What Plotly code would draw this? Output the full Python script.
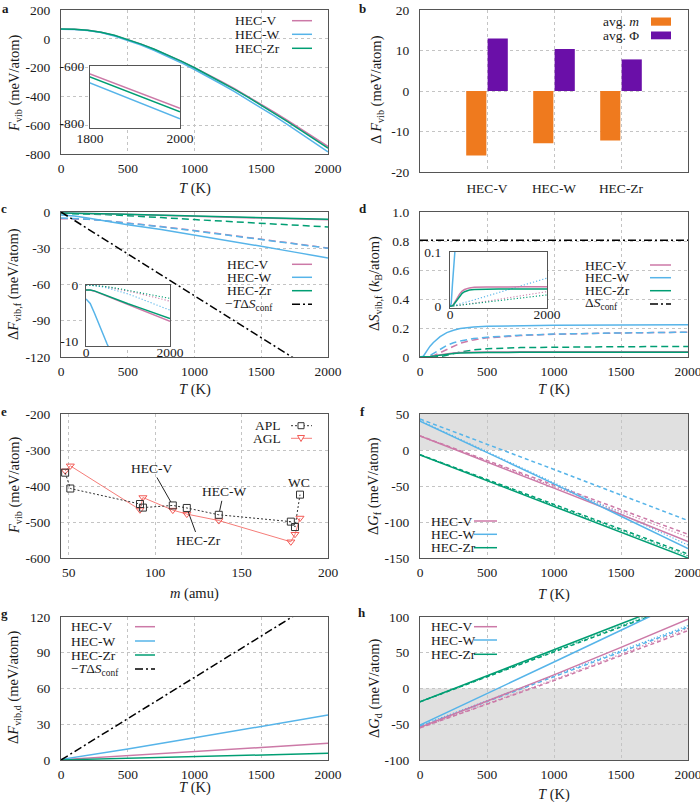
import plotly.graph_objects as go

# ---------------- data ----------------
# a: F_vib(T)
T_a = [0, 100, 200, 300, 400, 500, 600, 700, 800, 900, 1000, 1100, 1200, 1300, 1400,
       1500, 1600, 1700, 1800, 1900, 2000]
Fvib_V = [67, 66, 59, 45, 23, -5, -38, -74, -113, -155, -200, -247, -296, -347, -400,
          -455, -511, -569, -628, -688, -748]
Fvib_W = [66, 65, 58, 43, 20, -9, -43, -81, -122, -166, -213, -262, -314, -367, -422,
          -479, -537, -597, -659, -721, -785]
Fvib_Zr = [68, 67, 60, 46, 24, -4, -37, -73, -112, -155, -201, -249, -299, -351, -405,
           -461, -518, -577, -638, -699, -760]

# b: decomposition of Delta F_vib
b_labels = ["HEC-V", "HEC-W", "HEC-Zr"]
b_pos = [1, 2, 3]
dF_avg_m = [-15.9, -12.9, -12.2]
dF_avg_phi = [12.95, 10.4, 7.8]

# c: Delta F_vib,f
T_c = [0, 100, 200, 300, 400, 500, 750, 1000, 1250, 1500, 1750, 2000]
dFf_V = [-0.9, -0.9, -1.1, -1.4, -1.7, -2.0, -2.8, -3.5, -4.3, -5.0, -5.8, -6.5]
dFf_W = [-2.5, -3.3, -5.0, -6.9, -8.7, -10.5, -14.5, -19.0, -23.6, -28.4, -33.2, -38.0]
dFf_Zr = [-0.9, -0.9, -1.05, -1.35, -1.65, -1.95, -2.7, -3.35, -4.0, -4.7, -5.35, -6.0]
dFf_V_dash = [-5.5, -5.6, -6.1, -6.9, -7.9, -9.0, -12.0, -15.3, -18.9, -22.5, -26.1, -29.8]
dFf_W_dash = [-5.0, -5.2, -5.9, -6.9, -8.0, -9.2, -12.3, -15.6, -19.1, -22.7, -26.3, -30.0]
dFf_Zr_dash = [-1.2, -1.3, -1.6, -2.0, -2.5, -3.0, -4.6, -6.3, -7.8, -9.3, -10.9, -12.4]
T_conf = [0, 2000]
mTdS_conf = [0, -138.7]
pTdS_conf = [0, 138.7]
T_ci = [0, 250, 500, 750, 1000, 1250, 1500, 1750, 2000]
dFf_V_dot = [0, -0.1, -0.35, -0.7, -1.1, -1.5, -1.95, -2.4, -2.9]
dFf_W_dot = [0, -0.15, -0.5, -1.0, -1.6, -2.3, -3.0, -3.75, -4.5]
dFf_Zr_dot = [0, -0.1, -0.3, -0.6, -0.95, -1.3, -1.65, -2.0, -2.4]

# d: Delta S_vib,f
T_d = [0, 25, 50, 75, 100, 150, 200, 250, 300, 400, 500, 750, 1000, 1500, 2000]
dSf_V = [0, 0, 0.001, 0.004, 0.008, 0.016, 0.023, 0.028, 0.031, 0.034, 0.035, 0.0355, 0.036, 0.036, 0.036]
dSf_W = [0, 0.005, 0.04, 0.075, 0.1, 0.14, 0.168, 0.185, 0.196, 0.207, 0.212, 0.217, 0.219, 0.221, 0.222]
dSf_Zr = [0, 0, 0.001, 0.003, 0.006, 0.013, 0.019, 0.024, 0.027, 0.030, 0.031, 0.032, 0.032, 0.032, 0.032]
dSf_V_dash = [0, 0, 0, 0.002, 0.008, 0.03, 0.055, 0.078, 0.095, 0.118, 0.132, 0.148, 0.157, 0.166, 0.171]
dSf_W_dash = [0, 0, 0, 0.01, 0.025, 0.055, 0.08, 0.098, 0.11, 0.127, 0.137, 0.15, 0.158, 0.166, 0.171]
dSf_Zr_dash = [0, 0, 0, 0, 0, 0.003, 0.012, 0.024, 0.035, 0.049, 0.057, 0.065, 0.068, 0.071, 0.073]
dS_conf = [0.805, 0.805]
T_di = [0, 100, 500, 1000, 1500, 2000]
dSf_V_dot = [0, 0.001, 0.006, 0.013, 0.020, 0.027]
dSf_W_dot = [0, 0.002, 0.012, 0.025, 0.038, 0.052]
dSf_Zr_dot = [0, 0.001, 0.005, 0.011, 0.016, 0.021]

# e: F_vib vs mass
e_m = [47.9, 50.9, 91.2, 92.9, 110.2, 118.3, 136.8, 178.5, 180.9, 183.8]
e_F_APL = [-363, -407, -450, -460, -454, -461, -480, -499, -514, -424]
e_F_AGL = [-358, -344, -466, -432, -467, -478, -496, -555, -534, -489]
e_point_labels = ["HEC-V", "HEC-W", "HEC-Zr", "WC"]
e_point_index = [4, 6, 5, 9]

# f, h: Delta G_f and Delta G_d
T_fh = [0, 500, 1000, 1500, 2000]
dGf_V = [19.4, -16.5, -53, -89.5, -127]
dGf_V_dash = [19.6, -14.5, -48.5, -83, -117]
dGf_V_dot = [19.5, -15.5, -50.5, -86, -121]
dGf_W = [40, -3, -47, -92, -137]
dGf_W_dash = [43, 8.5, -27, -62.5, -98]
dGf_W_dot = [41, -2, -45, -88, -132]
dGf_Zr = [-6.9, -42.5, -78.5, -114.5, -150]
dGf_Zr_dash = [-6.5, -41, -75.5, -110, -144.5]
dGf_Zr_dot = [-6.7, -41.8, -77, -112, -147]
f_shade = [0, 50]

dGd_V = [-54.4, -18, 19, 57.5, 97]
dGd_V_dash = [-55, -22, 11, 46, 81]
dGd_V_dot = [-55, -21.5, 12.5, 48, 84]
dGd_W = [-51, -7.5, 37, 81.5, 126]
dGd_W_dash = [-53, -18, 17, 51.5, 86]
dGd_W_dot = [-52, -17, 18.5, 53, 88]
dGd_Zr = [-18.6, 17.5, 54, 90.5, 127]
dGd_Zr_dash = [-18.6, 16.2, 51, 86, 121]
dGd_Zr_dot = [-18.6, 16.8, 52.2, 87.6, 123]
h_shade = [-100, 0]

# g: Delta F_vib,d
T_g = [0, 500, 1000, 1500, 2000]
dFd_V = [0.3, 3.5, 7.0, 10.5, 14.0]
dFd_W = [0.5, 9.2, 18.6, 28.2, 37.7]
dFd_Zr = [0.1, 1.4, 2.8, 4.2, 5.6]

# tick labels
T_ticks = [0, 500, 1000, 1500, 2000]
T_ticktext = ["0", "500", "1000", "1500", "2000"]

# ---------------- style ----------------
W, H = 700, 802
FONT = "Liberation Serif"
PINK, BLUE, GREEN = "#cc79a7", "#56b4e9", "#009e73"
ORANGE, PURPLE, RED = "#ef7a1e", "#6a0fa8", "#f25a55"
FRAME, GRID, TXT = "#555555", "#c4c4c4", "#1a1a1a"
DASH = "7px,4px"
SDASH = "4px,3px"
DOT = "1.2px,2px"
DASHDOT = "8px,3px,2px,3px"
LEGSIZE = 13.5


def fx(p):
    return p / W


def fy(p):
    return 1 - p / H


panels = {
    1: (61, 328, 10, 154),     # a
    2: (420, 688, 10, 172),    # b
    3: (61, 328, 212, 357),    # c
    4: (420, 688, 212, 357),   # d
    5: (61, 328, 414, 558),    # e
    6: (420, 688, 414, 558),   # f
    7: (61, 328, 617, 760),    # g
    8: (420, 688, 617, 760),   # h
    9: (90, 180, 66, 128),     # inset a
    10: (86, 170, 285, 346),   # inset c
    11: (450, 547, 252, 308),  # inset d
}

layout = dict(width=W, height=H, autosize=False,
              margin=dict(l=0, r=0, t=0, b=0, pad=0, autoexpand=False),
              paper_bgcolor="white", plot_bgcolor="white", showlegend=False,
              barmode="group", bargap=0.36, bargroupgap=0.06,
              font=dict(family=FONT, size=14, color=TXT))
annotations = []
shapes = []
traces = []


def sfx(i):
    return "" if i == 1 else str(i)


def make_axes(i, xr, yr, xtv, xtt, ytv, ytt, grid=True, xso=2, yso=7):
    x0, x1, y0, y1 = panels[i]
    s = sfx(i)
    common = dict(showline=True, mirror=True, linecolor=FRAME, linewidth=1.3, ticks="",
                  zeroline=False, showgrid=grid, gridcolor=GRID, griddash="dot", gridwidth=1,
                  tickfont=dict(family=FONT, size=13.5, color=TXT), fixedrange=True,
                  tickmode="array", automargin=False, ticklabeloverflow="allow")
    layout["xaxis" + s] = dict(domain=[fx(x0), fx(x1)], anchor="y" + s, range=xr,
                               tickvals=xtv, ticktext=xtt, ticklabelstandoff=xso, **common)
    layout["yaxis" + s] = dict(domain=[fy(y1), fy(y0)], anchor="x" + s, range=yr,
                               tickvals=ytv, ticktext=ytt, ticklabelstandoff=yso, **common)


def line(i, x, y, color, width=1.5, dash="solid"):
    s = sfx(i)
    traces.append(go.Scatter(x=x, y=y, mode="lines", xaxis="x" + s, yaxis="y" + s,
                             line=dict(color=color, width=width, dash=dash),
                             hoverinfo="skip", showlegend=False))


def text(x, y, t, anchor="left", size=LEGSIZE, angle=0):
    annotations.append(dict(xref="paper", yref="paper", x=fx(x), y=fy(y), text=t,
                            showarrow=False, xanchor=anchor, yanchor="middle",
                            textangle=angle, font=dict(family=FONT, size=size, color=TXT)))


def leg_line(x0, x1, y, color, dash="solid", width=1.5):
    shapes.append(dict(type="line", xref="paper", yref="paper", x0=fx(x0), x1=fx(x1),
                       y0=fy(y), y1=fy(y), layer="above",
                       line=dict(color=color, width=width, dash=dash)))


def ytitle(x, y, t):
    text(x, y, t, anchor="center", size=14.5, angle=-90)


def xtitle(x, y, t):
    annotations.append(dict(xref="paper", yref="paper", x=fx(x), y=fy(y), text=t,
                            showarrow=False, xanchor="center", yanchor="middle",
                            font=dict(family=FONT, size=14.5, color=TXT)))


def tl(vals):
    return [str(v) for v in vals]


# ---------------- a ----------------
make_axes(1, [0, 2000], [-800, 200], T_ticks, T_ticktext,
          [200, 0, -200, -400, -600, -800], tl([200, 0, -200, -400, -600, -800]))
for y, c in [(Fvib_V, PINK), (Fvib_W, BLUE), (Fvib_Zr, GREEN)]:
    line(1, T_a, y, c)

# ---------------- b ----------------
make_axes(2, [0, 4], [-20, 20], b_pos, b_labels,
          [20, 10, 0, -10, -20], tl([20, 10, 0, -10, -20]), xso=4)
traces.append(go.Bar(x=b_pos, y=dF_avg_m, xaxis="x2", yaxis="y2", marker=dict(color=ORANGE, line=dict(width=0)),
                     offsetgroup="m", hoverinfo="skip", showlegend=False))
traces.append(go.Bar(x=b_pos, y=dF_avg_phi, xaxis="x2", yaxis="y2", marker=dict(color=PURPLE, line=dict(width=0)),
                     offsetgroup="p", hoverinfo="skip", showlegend=False))

# ---------------- c ----------------
make_axes(3, [0, 2000], [-120, 0], T_ticks, T_ticktext,
          [0, -30, -60, -90, -120], tl([0, -30, -60, -90, -120]))
for y, c in [(dFf_V_dash, PINK), (dFf_W_dash, BLUE), (dFf_Zr_dash, GREEN)]:
    line(3, T_c, y, c, dash=DASH)
for y, c in [(dFf_V, PINK), (dFf_W, BLUE), (dFf_Zr, GREEN)]:
    line(3, T_c, y, c)
line(3, T_conf, mTdS_conf, "black", dash=DASHDOT)

# ---------------- d ----------------
make_axes(4, [0, 2000], [0, 1.0], T_ticks, T_ticktext,
          [0, 0.2, 0.4, 0.6, 0.8, 1.0], ["0", "0.2", "0.4", "0.6", "0.8", "1.0"])
for y, c in [(dSf_V_dash, PINK), (dSf_W_dash, BLUE), (dSf_Zr_dash, GREEN)]:
    line(4, T_d, y, c, dash=DASH)
for y, c in [(dSf_V, PINK), (dSf_W, BLUE), (dSf_Zr, GREEN)]:
    line(4, T_d, y, c)
line(4, T_conf, dS_conf, "black", dash=DASHDOT)

# ---------------- e ----------------
make_axes(5, [45.5, 200], [-600, -200], [50, 100, 150, 200], ["50", "100", "150", "200"],
          [-200, -300, -400, -500, -600], tl([-200, -300, -400, -500, -600]))
traces.append(go.Scatter(x=e_m, y=e_F_AGL, mode="lines+markers", xaxis="x5", yaxis="y5",
                         line=dict(color=RED, width=0.8),
                         marker=dict(symbol="triangle-down-open", size=7, color=RED, line=dict(width=1)),
                         hoverinfo="skip", showlegend=False))
traces.append(go.Scatter(x=e_m, y=e_F_APL, mode="lines+markers", xaxis="x5", yaxis="y5",
                         line=dict(color="#333333", width=1, dash="2px,2px"),
                         marker=dict(symbol="square-open", size=7, color="#333333", line=dict(width=1)),
                         hoverinfo="skip", showlegend=False))
e_offsets = [(-21, -37), (5, -23), (12, 33)]
for k in range(3):
    idx = e_point_index[k]
    annotations.append(dict(xref="x5", yref="y5", x=e_m[idx], y=e_F_APL[idx], text=e_point_labels[k],
                            showarrow=True, arrowhead=0, arrowwidth=1, arrowcolor="#222",
                            ax=e_offsets[k][0], ay=e_offsets[k][1], standoff=4,
                            font=dict(family=FONT, size=LEGSIZE, color=TXT)))
annotations.append(dict(xref="x5", yref="y5", x=e_m[e_point_index[3]], y=e_F_APL[e_point_index[3]],
                        text=e_point_labels[3], showarrow=False, yshift=12, xshift=-1,
                        font=dict(family=FONT, size=LEGSIZE, color=TXT)))

# ---------------- f ----------------
make_axes(6, [0, 2000], [-150, 50], T_ticks, T_ticktext,
          [50, 0, -50, -100, -150], tl([50, 0, -50, -100, -150]))
shapes.append(dict(type="rect", xref="x6 domain", yref="y6", x0=0, x1=1, y0=f_shade[0], y1=f_shade[1],
                   fillcolor="#e0e0e0", line=dict(width=0), layer="below"))
for y, c in [(dGf_V_dot, PINK), (dGf_W_dot, BLUE), (dGf_Zr_dot, GREEN)]:
    line(6, T_fh, y, c, width=1.2, dash=DOT)
for y, c in [(dGf_V_dash, PINK), (dGf_W_dash, BLUE), (dGf_Zr_dash, GREEN)]:
    line(6, T_fh, y, c, dash=SDASH)
for y, c in [(dGf_V, PINK), (dGf_W, BLUE), (dGf_Zr, GREEN)]:
    line(6, T_fh, y, c)

# ---------------- g ----------------
make_axes(7, [0, 2000], [0, 120], T_ticks, T_ticktext,
          [0, 30, 60, 90, 120], ["0", "30", "60", "90", "120"])
for y, c in [(dFd_V, PINK), (dFd_W, BLUE), (dFd_Zr, GREEN)]:
    line(7, T_g, y, c)
line(7, T_conf, pTdS_conf, "black", dash=DASHDOT)

# ---------------- h ----------------
make_axes(8, [0, 2000], [-100, 100], T_ticks, T_ticktext,
          [100, 50, 0, -50, -100], tl([100, 50, 0, -50, -100]))
shapes.append(dict(type="rect", xref="x8 domain", yref="y8", x0=0, x1=1, y0=h_shade[0], y1=h_shade[1],
                   fillcolor="#e0e0e0", line=dict(width=0), layer="below"))
for y, c in [(dGd_V_dot, PINK), (dGd_W_dot, BLUE), (dGd_Zr_dot, GREEN)]:
    line(8, T_fh, y, c, width=1.2, dash=DOT)
for y, c in [(dGd_V_dash, PINK), (dGd_W_dash, BLUE), (dGd_Zr_dash, GREEN)]:
    line(8, T_fh, y, c, dash=SDASH)
for y, c in [(dGd_V, PINK), (dGd_W, BLUE), (dGd_Zr, GREEN)]:
    line(8, T_fh, y, c)

# ---------------- insets ----------------
make_axes(9, [1800, 2000], [-817, -600], [1800, 2000], ["1800", "2000"],
          [-600, -800], ["-600", "-800"], grid=False, xso=-2, yso=2)
make_axes(10, [0, 2000], [-10.9, 0], [0, 2000], ["0", "2000"],
          [0, -10], ["0", "-10"], grid=False, xso=-6, yso=4)
make_axes(11, [0, 2000], [-0.003, 0.1], [0, 2000], ["0", "2000"],
          [0, 0.1], ["0", "0.1"], grid=False, xso=-6, yso=5)
for i in (9, 10, 11):
    shapes.append(dict(type="rect", xref="x%d domain" % i, yref="y%d domain" % i, x0=0, x1=1, y0=0, y1=1,
                       fillcolor="white", line=dict(width=0), layer="below"))
for y, c in [(Fvib_V, PINK), (Fvib_W, BLUE), (Fvib_Zr, GREEN)]:
    line(9, T_a, y, c)
for y, c in [(dFf_V_dot, PINK), (dFf_W_dot, BLUE), (dFf_Zr_dot, GREEN)]:
    line(10, T_ci, y, c, width=1.1, dash=DOT)
for y, c in [(dFf_V, PINK), (dFf_W, BLUE), (dFf_Zr, GREEN)]:
    line(10, T_c, y, c)
for y, c in [(dSf_V_dot, PINK), (dSf_W_dot, BLUE), (dSf_Zr_dot, GREEN)]:
    line(11, T_di, y, c, width=1.1, dash=DOT)
for y, c in [(dSf_V, PINK), (dSf_W, BLUE), (dSf_Zr, GREEN)]:
    line(11, T_d, y, c)

# ---------------- legends (text first, sample after) ----------------
hec = [("HEC-V", PINK), ("HEC-W", BLUE), ("HEC-Zr", GREEN)]
for (t, c), y in zip(hec, [20.7, 34.3, 48.3]):          # a
    text(233, y, t); leg_line(292, 312, y, c)
text(641, 21.7, "avg. <i>m</i>", anchor="right")       # b
text(641, 35, "avg. Φ", anchor="right")
shapes.append(dict(type="rect", xref="paper", yref="paper", x0=fx(651), x1=fx(671), y0=fy(25.7), y1=fy(17.5),
                   fillcolor=ORANGE, line=dict(width=0), layer="above"))
shapes.append(dict(type="rect", xref="paper", yref="paper", x0=fx(651), x1=fx(671), y0=fy(39.3), y1=fy(31.5),
                   fillcolor=PURPLE, line=dict(width=0), layer="above"))
for (t, c), y in zip(hec, [264.3, 277.3, 290.7]):      # c
    text(225, y, t); leg_line(292, 312, y, c)
text(223, 304.3, "−<i>T</i>Δ<i>S</i><sub>conf</sub>"); leg_line(292, 312, 304.3, "black", DASHDOT)
for (t, c), y in zip(hec, [265, 277.7, 290.7]):        # d
    text(583, y, t); leg_line(650, 671, y, c)
text(583, 304, "Δ<i>S</i><sub>conf</sub>"); leg_line(650, 671, 304, "black", DASHDOT)
text(283, 425.7, "APL", anchor="right")                # e
leg_line(291, 312, 425.7, "#333333", "2px,2px", 1)
text(283, 438.3, "AGL", anchor="right")
leg_line(291, 312, 438.3, RED, "solid", 0.8)
shapes.append(dict(type="rect", xref="paper", yref="paper", x0=fx(298), x1=fx(304), y0=fy(428.7), y1=fy(422.7),
                   fillcolor="white", line=dict(color="#333333", width=1), layer="above"))
shapes.append(dict(type="path", xref="paper", yref="paper",
                   path="M %f,%f L %f,%f L %f,%f Z" % (fx(297.5), fy(435.5), fx(304.5), fy(435.5), fx(301), fy(441.5)),
                   fillcolor="white", line=dict(color=RED, width=1), layer="above"))
for (t, c), y in zip(hec, [521, 534.3, 547.7]):        # f
    text(429, y, t); leg_line(474, 497, y, c)
for (t, c), y in zip(hec, [626.7, 641, 655]):           # g
    text(69.3, y, t); leg_line(135, 155, y, c)
text(69.3, 669, "−<i>T</i>Δ<i>S</i><sub>conf</sub>"); leg_line(135, 155, 669, "black", DASHDOT)
for (t, c), y in zip(hec, [626.7, 640, 654.3]):         # h
    text(429, y, t); leg_line(474, 497, y, c)

# ---------------- axis titles ----------------
ytitle(15, 84, "<i>F</i><sub>vib</sub> (meV/atom)")
ytitle(377, 90, "Δ <i>F</i><sub>vib</sub> (meV/atom)")
ytitle(14, 284, "Δ<i>F</i><sub>vib,f</sub> (meV/atom)")
ytitle(375, 284, "Δ<i>S</i><sub>vib,f</sub> (<i>k</i><sub>B</sub>/atom)")
ytitle(15, 486, "<i>F</i><sub>vib</sub> (meV/atom)")
ytitle(374, 486, "Δ<i>G</i><sub>f</sub> (meV/atom)")
ytitle(14, 688, "Δ<i>F</i><sub>vib,d</sub> (meV/atom)")
ytitle(375, 688, "Δ<i>G</i><sub>d</sub> (meV/atom)")
xtitle(194.5, 188.3, "<i>T</i> (K)")
xtitle(194.5, 389.3, "<i>T</i> (K)")
xtitle(554, 389.3, "<i>T</i> (K)")
xtitle(194.5, 593.3, "<i>m</i> (amu)")
xtitle(554, 594, "<i>T</i> (K)")
xtitle(194.5, 787.7, "<i>T</i> (K)")
xtitle(554, 794.3, "<i>T</i> (K)")

# ---------------- panel letters ----------------
for lab, x, y in [("a", 5, 8), ("b", 362, 8), ("c", 4, 208), ("d", 363, 208),
                  ("e", 4, 411), ("f", 362, 411), ("g", 4, 613), ("h", 362, 612)]:
    text(x, y, "<b>%s</b>" % lab, anchor="center", size=13)

layout["annotations"] = annotations
layout["shapes"] = shapes
fig = go.Figure(data=traces, layout=layout)
fig.write_html("out.html", config={"displayModeBar": False},
               post_script="document.body.style.margin='0';document.body.style.padding='0';"
                           "document.documentElement.style.overflow='hidden';")
